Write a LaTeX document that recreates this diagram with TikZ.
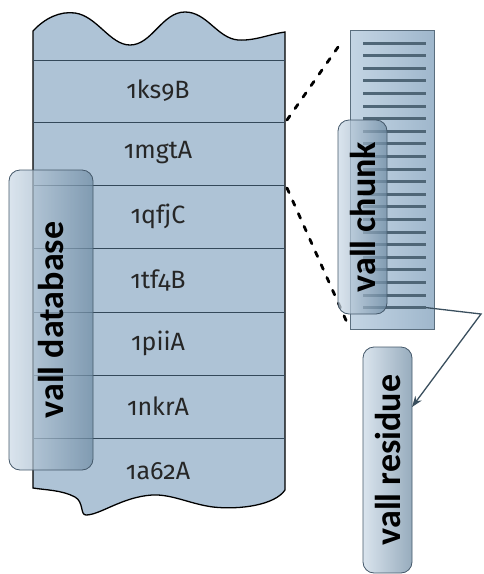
\documentclass[tikz,border=0pt]{standalone}
\usepackage{fontspec}
\setmainfont{Carlito}[Numbers=OldStyle]
\newfontfamily\rowfont{Fira Sans}[Numbers=OldStyle]
\usetikzlibrary{arrows.meta}
\definecolor{dbfill}{HTML}{AEC3D6}
\definecolor{rowline}{HTML}{34495A}
\definecolor{chleft}{HTML}{C4D5E4}
\definecolor{chright}{HTML}{9FB7CC}
\definecolor{chborder}{HTML}{5A6E7E}
\definecolor{chline}{HTML}{4F6677}
\definecolor{lbllight}{HTML}{CCDAE7}
\definecolor{lbldark}{HTML}{6F8CA4}
\definecolor{lblborder}{HTML}{44586A}
\definecolor{arrcol}{HTML}{3A4F5E}
\tikzset{
  dbshape/.style={fill=dbfill, draw=black, line width=1.3pt},
  rowsep/.style={draw=rowline, line width=1pt},
  rowlabel/.style={font=\rowfont\fontsize{25}{28}\selectfont, text=black!85},
  lblbox/.style={rotate=90, rounded corners=11pt, draw=lblborder, line width=0.8pt,
    left color=lbllight, right color=lbldark, fill opacity=0.72, text opacity=1,
    font=\bfseries\fontsize{36}{40}\selectfont, inner sep=0pt, align=center},
  chunkcol/.style={draw=chborder, line width=0.8pt, left color=chleft, right color=chright},
  chunkline/.style={draw=chline, line width=3pt},
  dotline/.style={line width=2.8pt, dash pattern=on 5pt off 9pt, line cap=round},
  arr/.style={draw=arrcol, line width=1.3pt, -{Stealth[length=11pt,width=8pt]}}
}
\begin{document}
\begin{tikzpicture}[x=1pt,y=-1pt]
\useasboundingbox (0,0) rectangle (484,574);
% database body
\draw[dbshape] (33,31) .. controls (45,18) and (60,11) .. (75,13)
  .. controls (97,16) and (110,45) .. (130,45)
  .. controls (152,45) and (162,12) .. (185,12)
  .. controls (207,12) and (217,38) .. (238,40)
  .. controls (255,41) and (270,34) .. (285,32)
  -- (285,490)
  .. controls (275,505) and (240,510) .. (213,507)
  .. controls (190,504) and (172,494) .. (152,495)
  .. controls (122,497) and (100,515) .. (86,515)
  .. controls (80,515) and (84,502) .. (75,497)
  .. controls (62,490) and (45,490) .. (33,488)
  -- cycle;
\foreach \y/\n in {60/a,122/b,185/c,248/d,312/e,375/f,438/g}{
  \coordinate (L\n) at (33,\y);
  \coordinate (R\n) at (285,\y);
  \draw[rowsep] (L\n) -- (R\n);
}
\node[rowlabel] (r1) at (158,91) {1ks9B};
\node[rowlabel] (r2) at (158,153) {1mgtA};
\node[rowlabel] (r3) at (158,216) {1qfjC};
\node[rowlabel] (r4) at (158,280) {1tf4B};
\node[rowlabel] (r5) at (158,343) {1piiA};
\node[rowlabel] (r6) at (158,406) {1nkrA};
\node[rowlabel] (r7) at (158,471) {1a62A};
% chunk column
\node[chunkcol, minimum width=84pt, minimum height=299pt, inner sep=0pt] (chunk) at (392,179.5) {};
\foreach \i in {0,...,21}{
  \pgfmathsetmacro{\yy}{43+12.6*\i}
  \coordinate (cl\i) at (363,\yy);
  \coordinate (cr\i) at (426,\yy);
  \draw[chunkline] (cl\i) -- (cr\i);
}
% dotted connectors
\coordinate (d1a) at (287,120);
\coordinate (d1b) at (343,40);
\coordinate (d2a) at (287,188);
\coordinate (d2b) at (349,327);
\draw[dotline] (d1a) -- (d1b);
\draw[dotline] (d2a) -- (d2b);
% label boxes
\node[lblbox, minimum width=300pt, minimum height=84pt] (vdb) at (51,320) {vall database};
\node[lblbox, minimum width=194pt, minimum height=49pt] (vch) at (362.5,217) {vall chunk};
\node[lblbox, minimum width=226pt, minimum height=49pt] (vres) at (387.5,460) {vall residue};
% arrow
\coordinate (bend) at (481,314);
\coordinate (resin) at (412,407);
\draw[arr] (cr21) -- (bend) -- (resin);
\end{tikzpicture}
\end{document}
